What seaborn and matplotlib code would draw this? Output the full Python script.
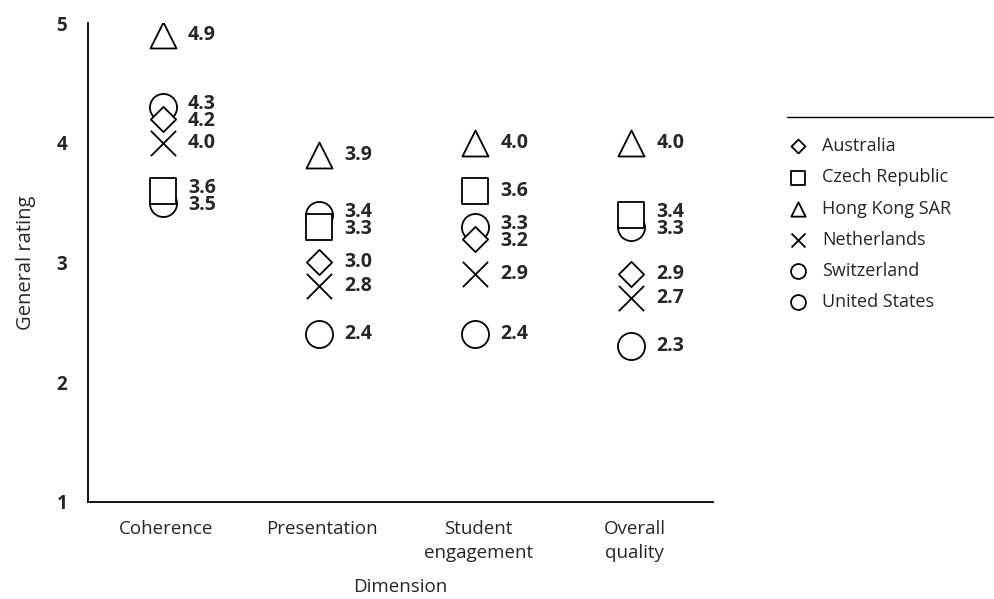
import matplotlib
matplotlib.use("Agg")
import pandas as pd
import matplotlib.pyplot as plt
import seaborn as sns
from matplotlib.lines import Line2D

# Ratings
dimensions = ["Coherence", "Presentation", "Student\nengagement", "Overall\nquality"]
countries = ["Australia", "Czech Republic", "Hong Kong SAR", "Netherlands",
             "Switzerland", "United States"]
australia = [4.2, 3.0, 3.2, 2.9]
czech_republic = [3.6, 3.3, 3.6, 3.4]
hong_kong = [4.9, 3.9, 4.0, 4.0]
netherlands = [4.0, 2.8, 2.9, 2.7]
switzerland = [4.3, 3.4, 3.3, 3.3]
united_states = [3.5, 2.4, 2.4, 2.3]

series = [australia, czech_republic, hong_kong, netherlands, switzerland, united_states]
rows = []
for c, vals in zip(countries, series):
    for i, (d, v) in enumerate(zip(dimensions, vals)):
        rows.append({"country": c, "dimension": d, "pos": i, "rating": v})
df = pd.DataFrame(rows)

# marker style per country (shape, size in pt^2, zorder)
styles = {
    "Australia": ("D", 165, 4),
    "Czech Republic": ("s", 330, 4),
    "Hong Kong SAR": ("^", 350, 4),
    "Netherlands": ("x", 330, 4),
    "Switzerland": ("o", 380, 3),
    "United States": ("o", 380, 3),
}

sns.set_style("white")
plt.rcParams["font.family"] = ["Open Sans", "DejaVu Sans"]

fig = plt.figure(figsize=(9.94, 5.99), dpi=100)
ax = fig.add_axes([0.0885, 0.162, 0.6285, 0.7996])

for c in countries:
    m, s, z = styles[c]
    sub = df[df["country"] == c].copy()
    sub["x"] = sub["pos"] - 0.02
    if m == "x":
        sns.scatterplot(data=sub, x="x", y="rating", marker=m, s=s, color="black",
                        linewidth=1.3, zorder=z, label=c, ax=ax)
    else:
        sns.scatterplot(data=sub, x="x", y="rating", marker=m, s=s, color="white",
                        edgecolor="black", linewidth=1.3, zorder=z, label=c, ax=ax)

# value labels, nudged apart where two values sit 0.1 apart
min_gap = 0.145
for i in range(len(dimensions)):
    col = df[df["pos"] == i].drop_duplicates("rating").sort_values("rating")
    vals = col["rating"].tolist()
    ys = list(vals)
    for _ in range(20):
        for k in range(1, len(ys)):
            gap = ys[k] - ys[k - 1]
            if gap < min_gap:
                shift = (min_gap - gap) / 2
                ys[k] += shift
                ys[k - 1] -= shift
    for v, y in zip(vals, ys):
        ax.text(i + 0.14, y, f"{v:.1f}", ha="left", va="center",
                fontsize=14, fontweight="bold")

ax.set_xlim(-0.5, 3.5)
ax.set_ylim(1, 5)
ax.set_xticks([-0.5, 0.5, 1.5, 2.5, 3.5])
ax.set_xticklabels([])
ax.set_xticks(range(len(dimensions)), minor=True)
ax.set_xticklabels(dimensions, minor=True, fontsize=13.5, linespacing=1.4)
ax.tick_params(axis="x", which="minor", length=0, pad=13)
ax.tick_params(axis="x", which="major", direction="out", length=7, width=1.1)
ax.set_yticks([1, 2, 3, 4, 5])
ax.set_yticklabels(["1", "2", "3", "4", "5"], fontsize=13.5, fontweight="bold")
ax.tick_params(axis="y", direction="out", length=7, width=1.1, pad=8)

for side in ["top", "right"]:
    ax.spines[side].set_visible(False)
for side in ["left", "bottom"]:
    ax.spines[side].set_linewidth(1.3)
    ax.spines[side].set_color("black")

ax.set_xlabel("Dimension", fontsize=13.5, labelpad=12)
ax.set_ylabel("General rating", fontsize=14.5, labelpad=15)

handles, labels = ax.get_legend_handles_labels()
leg = fig.legend(handles, labels, loc="upper left", bbox_to_anchor=(0.785, 0.786),
                 frameon=False, markerscale=0.55, fontsize=13, labelspacing=0.73,
                 handletextpad=0.8, handlelength=1.0, borderpad=0)
if ax.get_legend() is not None:
    ax.get_legend().remove()

fig.add_artist(Line2D([0.792, 1.0], [1 - 117 / 599] * 2, transform=fig.transFigure,
                      color="black", linewidth=1.0))

fig.savefig("out.png", dpi=100)
